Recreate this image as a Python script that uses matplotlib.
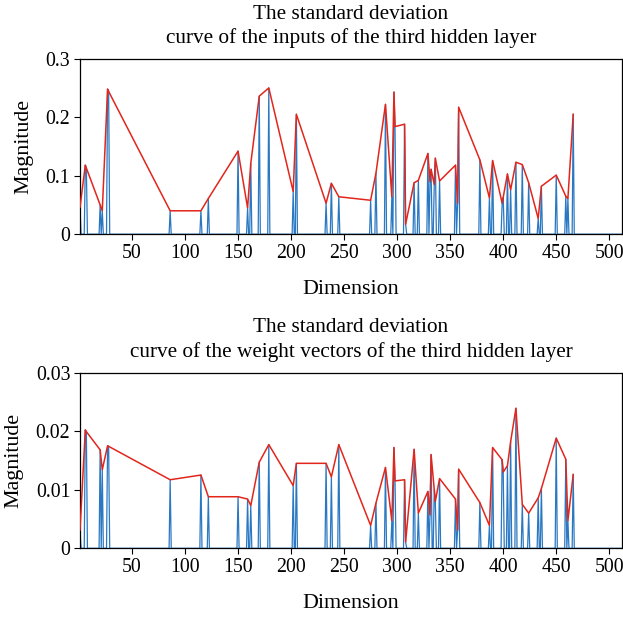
import numpy as np
import matplotlib
matplotlib.use("Agg")
import matplotlib.pyplot as plt

plt.rcParams['font.family'] = ['Liberation Serif', 'DejaVu Serif']
plt.rcParams['mathtext.fontset'] = 'stix'

n_dims = 512
dims = [1, 6, 7, 20, 22, 27, 28, 86, 115, 122, 150, 159, 162, 170, 179, 202, 205,
        233, 238, 245, 275, 280, 289, 295, 297, 298, 307, 308, 316, 320, 329, 331,
        332, 335, 336, 340, 355, 357, 358, 378, 387, 390, 399, 400, 404, 407, 412,
        418, 424, 433, 436, 450, 459, 461, 466]
inputs_std = [0.046, 0.118, 0.113, 0.050, 0.040, 0.248, 0.244, 0.040, 0.040, 0.061,
              0.142, 0.045, 0.121, 0.236, 0.250, 0.073, 0.205, 0.053, 0.087, 0.064,
              0.058, 0.104, 0.222, 0.064, 0.243, 0.184, 0.188, 0.017, 0.088, 0.092,
              0.138, 0.090, 0.111, 0.085, 0.130, 0.091, 0.118, 0.053, 0.217, 0.127,
              0.062, 0.126, 0.053, 0.063, 0.103, 0.076, 0.123, 0.119, 0.088, 0.027,
              0.082, 0.101, 0.065, 0.061, 0.205]
weights_std = [0.0031, 0.0202, 0.0199, 0.0168, 0.0134, 0.0175, 0.0174, 0.0117, 0.0125,
               0.0088, 0.0088, 0.0084, 0.0073, 0.0147, 0.0177, 0.0107, 0.0145, 0.0145,
               0.0122, 0.0177, 0.0039, 0.0077, 0.0138, 0.0047, 0.0172, 0.0115, 0.0117,
               0.0011, 0.0169, 0.0060, 0.0097, 0.0057, 0.0160, 0.0100, 0.0080, 0.0119,
               0.0084, 0.0031, 0.0135, 0.0078, 0.0039, 0.0172, 0.0151, 0.0130, 0.0141,
               0.0182, 0.0239, 0.0075, 0.0060, 0.0086, 0.0102, 0.0188, 0.0152, 0.0047,
               0.0126]

titles = ["The standard deviation\ncurve of the inputs of the third hidden layer",
          "The standard deviation\ncurve of the weight vectors of the third hidden layer"]
ylims = [0.3, 0.03]
yticks = [[0, 0.1, 0.2, 0.3], [0, 0.01, 0.02, 0.03]]
ytick_labels = [["0", "0.1", "0.2", "0.3"], ["0", "0.01", "0.02", "0.03"]]
xticks = [50, 100, 150, 200, 250, 300, 350, 400, 450, 500]

BLUE = '#2a78c2'
RED = '#e2261c'

fig = plt.figure(figsize=(6.23, 6.18), dpi=100)
W, H = 623, 618
boxes = [(80, 58.7, 622, 234.2), (80, 372.5, 622, 548.3)]
ylabel_pads = [9, 9]
title_pads = [11, 11]

x_all = np.arange(1, n_dims + 1)
for i, (vals, title) in enumerate(zip([inputs_std, weights_std], titles)):
    l, t, r, b = boxes[i]
    ax = fig.add_axes([l / W, 1 - b / H, (r - l) / W, (b - t) / H])
    full = np.zeros(n_dims)
    full[np.array(dims) - 1] = vals
    ax.plot(x_all, full, color=BLUE, lw=0.9, zorder=2)
    ax.plot(dims, vals, color=RED, lw=1.1, zorder=3)
    ax.set_xlim(1, n_dims)
    ax.set_ylim(0, ylims[i])
    ax.set_yticks(yticks[i])
    ax.set_yticklabels(ytick_labels[i])
    ax.set_xticks(xticks)
    ax.tick_params(labelsize=14.3, length=4, width=0.8, pad=3)
    ax.set_title(title, fontsize=15.3, pad=title_pads[i], linespacing=1.33)
    ax.set_ylabel("Magnitude", fontsize=15.8, labelpad=ylabel_pads[i])
    ax.set_xlabel("Dimension", fontsize=15.8, labelpad=12)
    for s in ax.spines.values():
        s.set_linewidth(0.9)

fig.savefig("out.png", dpi=100)
